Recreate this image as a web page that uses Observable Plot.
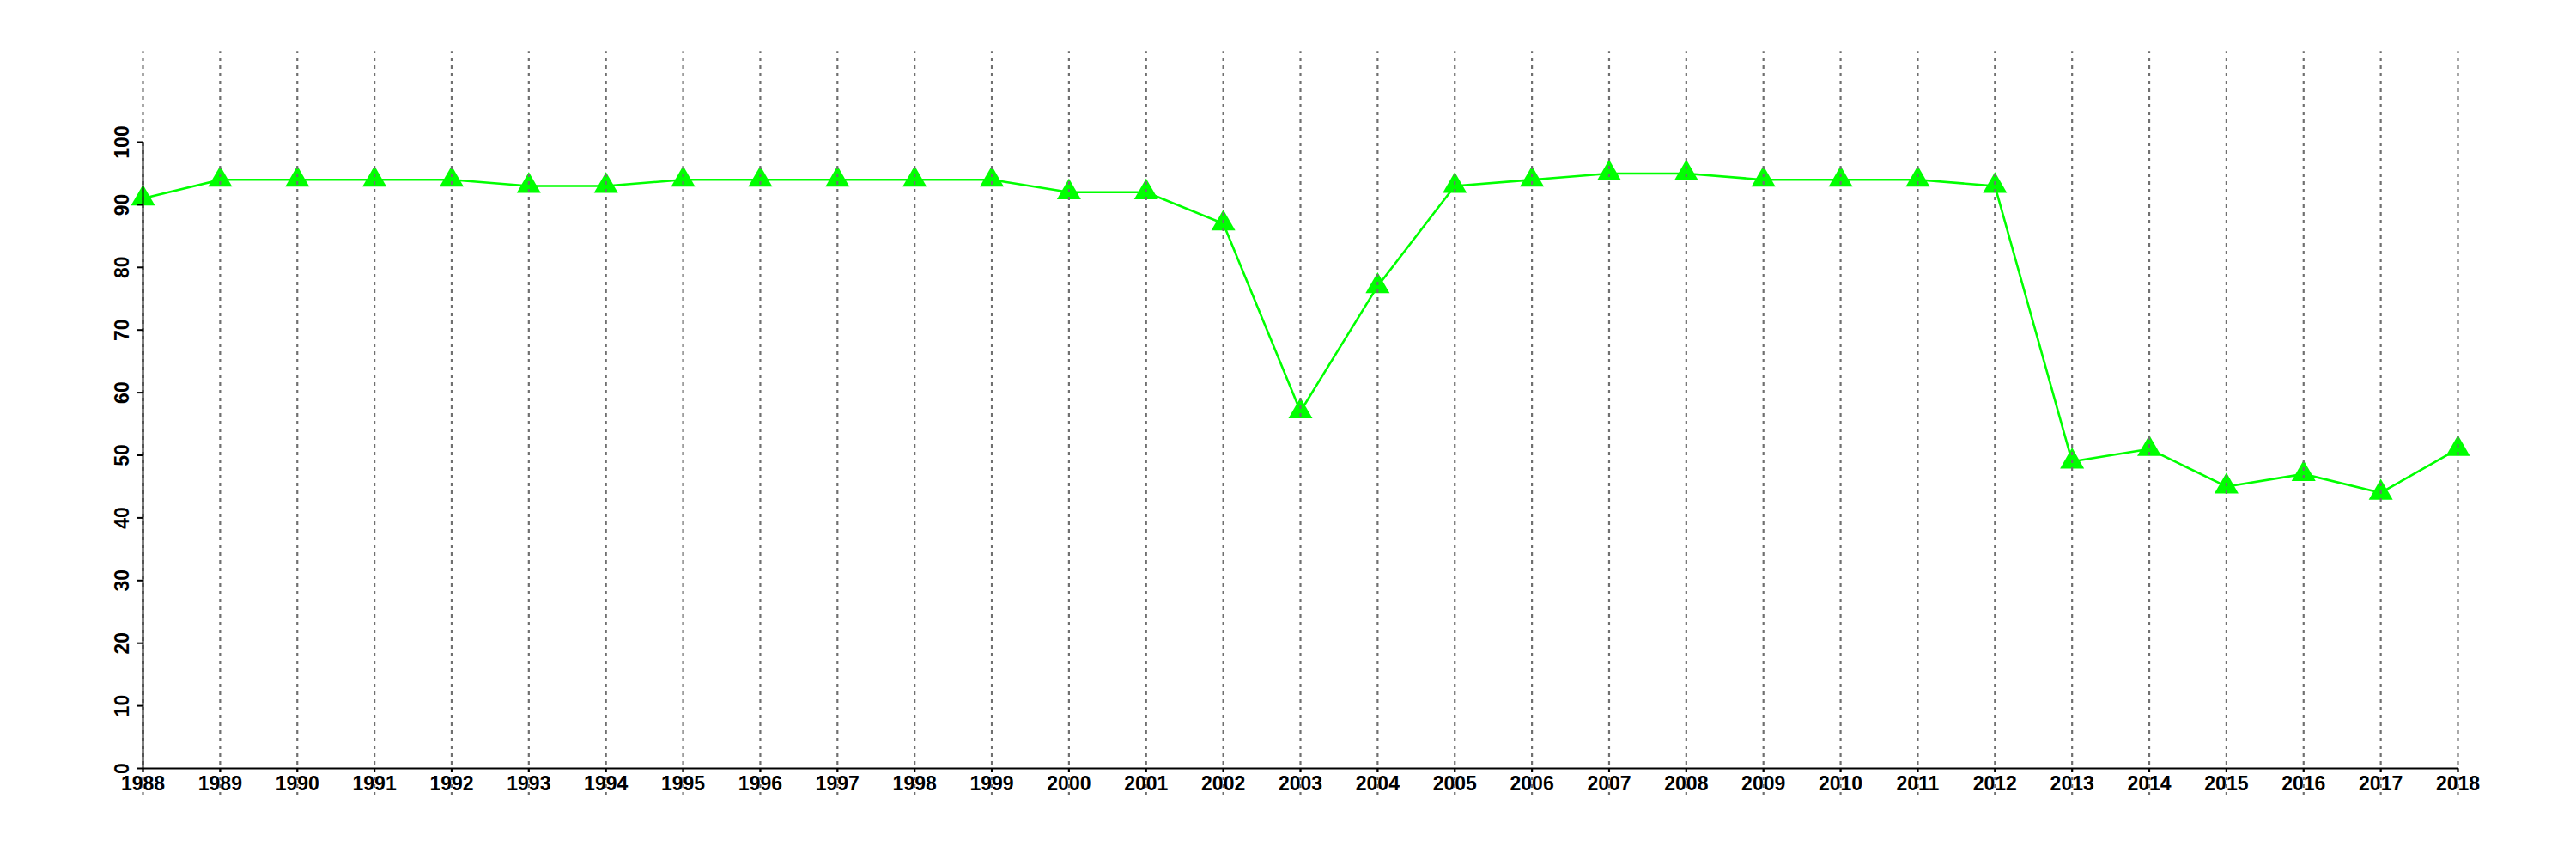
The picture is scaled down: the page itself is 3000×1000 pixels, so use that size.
<!DOCTYPE html>
<html>
<head>
<meta charset="utf-8">
<script src="https://cdn.jsdelivr.net/npm/d3@7"></script>
<script src="https://cdn.jsdelivr.net/npm/@observablehq/plot@0.6"></script>
<style>
  html, body { margin: 0; padding: 0; background: #fff; }
  #chart svg { display: block; }
</style>
</head>
<body>
<div id="chart"></div>
<script>
const years = [1988,1989,1990,1991,1992,1993,1994,1995,1996,1997,1998,1999,2000,2001,2002,2003,2004,2005,2006,2007,2008,2009,2010,2011,2012,2013,2014,2015,2016,2017,2018];
const values = [91,94,94,94,94,93,93,94,94,94,94,94,92,92,87,57,77,93,94,95,95,94,94,94,93,49,51,45,47,44,51];
const yTicks = [0,10,20,30,40,50,60,70,80,90,100];
const gridRange = [-4.4, 114.5];

const data = years.map((y, i) => ({year: y, value: values[i]}));
const font = "'Liberation Sans', Arial, Helvetica, sans-serif";

const chart = Plot.plot({
  width: 3000,
  height: 1000,
  marginLeft: 166,
  marginRight: 138,
  marginTop: 165,
  marginBottom: 106,
  style: {fontFamily: font, background: "#fff", overflow: "visible"},
  x: {type: "linear", domain: [years[0], years[years.length - 1]], axis: null, label: null},
  y: {type: "linear", domain: [0, 100], axis: null, label: null},
  marks: [
    // x tick labels
    Plot.text(years, {x: d => d, y: 0, text: d => String(d), dy: 18, lineAnchor: "middle", textAnchor: "middle", fontSize: 23, fontWeight: "bold", fill: "#000"}),
    // y tick labels (rotated)
    Plot.text(yTicks, {x: years[0], y: d => d, text: d => String(d), dx: -24, rotate: -90, lineAnchor: "middle", textAnchor: "middle", fontSize: 23, fontWeight: "bold", fill: "#000"}),
    // line + triangles
    Plot.line(data, {x: "year", y: "value", stroke: "#00ff00", strokeWidth: 2.6}),
    Plot.dot(data, {x: "year", y: "value", symbol: "triangle", r: 10.4, fill: "#00ff00", stroke: "none"}),
    // dotted vertical gridlines (on top)
    Plot.ruleX(years, {x: d => d, y1: gridRange[0], y2: gridRange[1], stroke: "#707070", strokeWidth: 2.2, strokeDasharray: "4,5"}),
    // axis lines
    Plot.ruleX([years[0]], {x: d => d, y1: 0, y2: 100, stroke: "#000", strokeWidth: 2}),
    Plot.ruleY([0], {y: d => d, x1: years[0], x2: years[years.length - 1], stroke: "#000", strokeWidth: 2}),
    // ticks
    Plot.axisY({ticks: yTicks, tickSize: 7, anchor: "left", stroke: "#000", strokeWidth: 2, tickFormat: () => "", label: null}),
    Plot.axisX({ticks: years, tickSize: 5, anchor: "bottom", stroke: "#000", strokeWidth: 2, tickFormat: () => "", tickPadding: 0, label: null})
  ]
});
document.getElementById("chart").appendChild(chart);
</script>
</body>
</html>
